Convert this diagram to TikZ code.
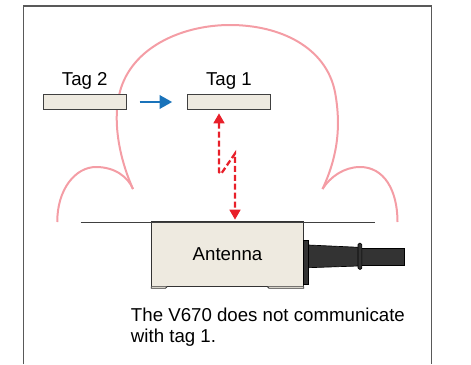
\documentclass[tikz,border=0pt]{standalone}
\usepackage{fontspec}
\setmainfont{Liberation Sans}
\usetikzlibrary{positioning,arrows.meta,calc}
\definecolor{tagfill}{HTML}{EEEAE0}
\definecolor{fieldpink}{HTML}{F49DA5}
\definecolor{sigred}{HTML}{E8202A}
\definecolor{moveblue}{HTML}{1A73BA}
\definecolor{cabledark}{HTML}{333333}
\tikzset{
  tagbox/.style={draw=black!75, fill=tagfill, line width=0.9pt, minimum width=62.2pt, minimum height=11pt, inner sep=0pt},
  taglabel/.style={inner sep=0pt, font=\fontsize{14}{16}\selectfont},
  field/.style={draw=fieldpink, line width=1.5pt},
  signal/.style={draw=sigred, line width=1.7pt, dash pattern=on 4.5pt off 2.2pt},
  movearrow/.style={draw=moveblue, line width=2pt, -{Triangle[length=9.5pt,width=10pt]}},
  cablepart/.style={fill=cabledark, draw=black, line width=0.5pt}
}

\begin{document}
\begin{tikzpicture}[x=0.75pt,y=-0.75pt]
  \useasboundingbox (0,0) rectangle (471,364);
  % frame
  \draw[black!65, line width=0.8pt] (23.5,364) -- (23.5,6) -- (431.7,6) -- (431.7,364);

  % communication field
  \draw[field] (57.3,222) .. controls (57,190) and (75,167) .. (96,167)
    .. controls (115,167) and (128,177) .. (133,189);
  \draw[field] (133,189) .. controls (120,160) and (111,120) .. (121,88)
    .. controls (135,45) and (185,25) .. (230,25)
    .. controls (280,25) and (326,47) .. (335,92)
    .. controls (342,130) and (336,160) .. (322.5,189);
  \draw[field] (322.5,189) .. controls (330,177) and (344,167) .. (360,167)
    .. controls (384,167) and (397.5,190) .. (397.5,222);

  % tags
  \node[tagbox] (tag2) at (84.8,102) {};
  \node[tagbox, right=45pt of tag2] (tag1) {};
  \node[taglabel, above=3.5pt of tag2] (tag2label) {Tag 2};
  \node[taglabel, above=3.5pt of tag1] (tag1label) {Tag 1};
  \draw[movearrow, shorten <=9.5pt, shorten >=11pt] (tag2) -- (tag1);

  % antenna and cable
  \node[draw=black!80, fill=tagfill, line width=0.9pt, minimum width=114.3pt, minimum height=48.5pt,
    inner sep=0pt, font=\fontsize{14}{16}\selectfont] (antenna) at (227.5,254.4) {Antenna};
  \fill[tagfill, draw=black!80, line width=0.6pt] (151.3,286.7) -- (151.3,288.3) -- (165.5,288.3) -- (167,286.7);
  \fill[tagfill, draw=black!80, line width=0.6pt] (267.5,286.7) -- (269,288.3) -- (303.7,288.3) -- (303.7,286.7);
  \draw[black!75, line width=0.8pt] (80.7,222.3) -- (374.7,222.3);
  \draw[cablepart] (361.7,248.3) rectangle (404.3,265);
  \draw[cablepart] (308.3,245) -- (358.5,247.3) -- (358.5,266) -- (308.3,267.7) -- cycle;
  \draw[cablepart, rounded corners=1pt] (358,243.3) rectangle (361.9,269.3);
  \draw[cablepart] (303.7,240.7) rectangle (308.3,284.5);

  % signal that misses tag 1
  \coordinate (kinkA) at (219,172);
  \coordinate (kinkB) at (221,174);
  \coordinate (kinkC) at (235,153.5);
  \draw[signal, {Triangle[length=7.5pt,width=8pt]}-{Triangle[length=7.5pt,width=8pt]}, shorten <=2.5pt, shorten >=1.3pt]
    (tag1.south -| kinkA) -- (kinkA) -- (kinkB) -- (kinkC) -- (kinkC |- antenna.north);

  \node[anchor=base west, align=left, inner sep=0pt, font=\fontsize{14}{15.75}\selectfont] (note) at (130.7,342.7)
    {The V670 does not communicate\\with tag 1.};
\end{tikzpicture}
\end{document}
